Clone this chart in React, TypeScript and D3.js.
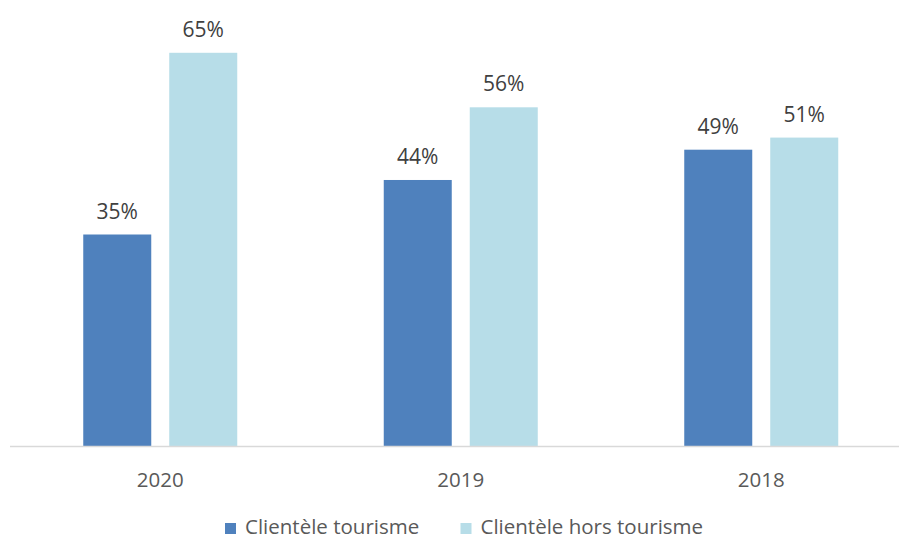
import React from "react";
import * as d3 from "d3";

const categories = ["2020", "2019", "2018"];
const seriesNames = ["Clientèle tourisme", "Clientèle hors tourisme"];
const tourisme = [35, 44, 49];
const horsTourisme = [65, 56, 51];
const colors = ["#4F81BD", "#B7DDE8"];

const W = 899;
const H = 539;
const FONT = "'Open Sans', sans-serif";

export default function App() {
  const x = d3.scaleBand<string>().domain(categories).range([10, 911.5]).paddingInner(0).paddingOuter(0);
  const y = d3.scaleLinear().domain([0, 70]).range([446.5, 22.5]);
  const barW = 68;
  const gap = 18;
  const series = [tourisme, horsTourisme];

  return (
    <svg width={W} height={H} style={{ position: "absolute", left: 0, top: 0, background: "#fff" }}>
      {categories.map((c, i) => {
        const cx = (x(c) as number) + x.bandwidth() / 2;
        return series.map((s, si) => {
          const bx = si === 0 ? cx - gap / 2 - barW : cx + gap / 2;
          const v = s[i];
          return (
            <g key={c + si}>
              <rect x={bx} y={y(v)} width={barW} height={y(0) - y(v)} fill={colors[si]} />
              <text
                x={bx + barW / 2}
                y={y(v) - 16}
                textAnchor="middle"
                fontFamily={FONT}
                fontSize={21}
                fill="#404040"
              >
                {v + "%"}
              </text>
            </g>
          );
        });
      })}
      <line x1={10} x2={911.5} y1={y(0)} y2={y(0)} stroke="#D9D9D9" strokeWidth={1.5} />
      {categories.map((c) => (
        <text
          key={c}
          x={(x(c) as number) + x.bandwidth() / 2}
          y={487}
          textAnchor="middle"
          fontFamily={FONT}
          fontSize={20.5}
          fill="#595959"
        >
          {c}
        </text>
      ))}
      {seriesNames.map((n, i) => {
        const lx = i === 0 ? 225 : 460.5;
        return (
          <g key={n}>
            <rect x={lx} y={523} width={11} height={11} fill={colors[i]} />
            <text x={lx + 20} y={533.5} fontFamily={FONT} fontSize={20.5} fill="#595959">
              {n}
            </text>
          </g>
        );
      })}
    </svg>
  );
}
